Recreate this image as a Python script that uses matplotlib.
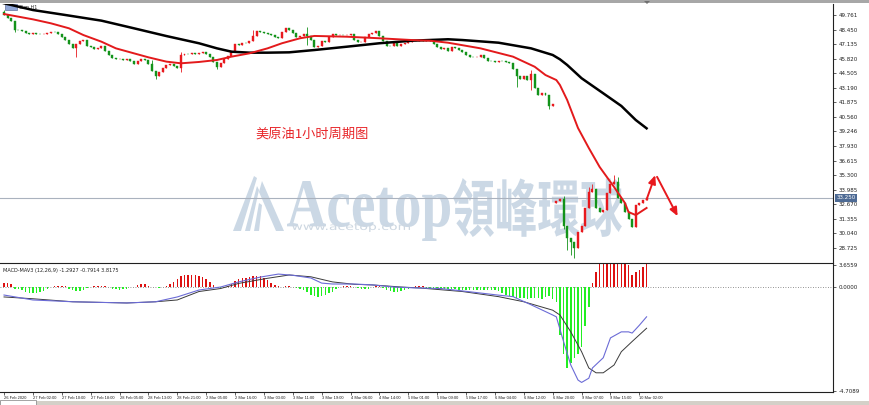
import numpy as np
import matplotlib
matplotlib.use("Agg")
import matplotlib.pyplot as plt
from matplotlib.textpath import TextPath
from matplotlib.patches import PathPatch, Polygon, Rectangle
from matplotlib.font_manager import FontProperties
from matplotlib.transforms import Affine2D, blended_transform_factory

# Hourly closes (bar 0 = 26 Feb 2020), weekend gap after bar 152
closes = [
    49.76, 49.49, 49.22, 48.41, 48.38, 48.32, 48.14, 48.05, 48.14, 48.05,
    48.02, 48.07, 48.14, 48.23, 48.20, 48.05, 47.78, 47.50, 47.14, 46.78,
    47.14, 47.41, 47.50, 46.96, 46.87, 46.69, 46.78, 46.96, 46.51, 46.15,
    45.88, 45.79, 45.82, 45.70, 45.79, 45.61, 45.34, 45.61, 45.79, 45.70,
    45.34, 44.71, 44.25, 44.62, 44.98, 45.25, 45.34, 45.16, 44.98, 46.15,
    46.24, 46.21, 46.33, 46.24, 46.33, 46.42, 46.24, 45.97, 45.52, 45.07,
    45.43, 45.79, 46.06, 46.51, 47.14, 47.05, 47.23, 47.20, 47.41, 47.87,
    48.32, 48.23, 48.14, 48.05, 47.96, 47.78, 47.68, 48.23, 48.59, 48.41,
    48.14, 47.78, 47.87, 48.05, 47.87, 47.50, 46.87, 46.96, 47.41, 47.32,
    47.78, 48.05, 47.96, 47.99, 47.93, 47.96, 48.05, 47.50, 47.32, 47.35,
    47.78, 48.05, 48.14, 48.32, 47.87, 47.41, 46.96, 46.93, 47.23, 46.96,
    47.14, 47.23, 47.32, 47.41, 47.38, 47.50, 47.41, 47.47, 47.41, 47.14,
    46.87, 46.69, 46.78, 46.51, 46.87, 46.78, 46.60, 46.42, 46.15, 45.97,
    45.94, 45.97, 46.15, 45.88, 45.61, 45.58, 45.52, 45.61, 45.58, 45.52,
    45.43, 44.89, 44.25, 43.98, 44.25, 43.89, 44.43, 43.17, 42.54, 42.72,
    42.51, 41.54, 41.73, 32.97, 33.15, 30.71, 29.63, 29.27, 28.73, 30.17,
    30.71, 32.34, 33.78, 34.05, 32.34, 31.97, 32.15, 33.69, 34.50, 34.68,
    33.24, 32.79, 31.97, 31.34, 30.62, 32.61, 32.79, 33.06, 33.25,
]
# opens that do not follow the previous close (first bar, Monday gap)
open_override = {0: 50.03, 153: 32.79}
# visible wicks
wick_high = {0: 50.21, 41: 45.70, 49: 46.42, 69: 48.41, 84: 48.68, 146: 44.80,
             155: 33.42, 162: 34.23, 163: 34.50, 169: 35.31, 170: 35.13}
wick_low = {3: 48.20, 20: 45.97, 42: 43.98, 49: 44.62, 59: 44.89, 84: 47.05,
            142: 43.26, 146: 42.99, 151: 41.27, 155: 30.44, 156: 28.55,
            157: 28.09, 158: 27.82}

# moving averages (bar index, price)
red_ma_idx = [0, 3, 8, 13, 18, 22, 27, 31, 36, 40, 45, 49, 54, 59, 63, 68, 73, 77, 82, 86,
              95, 104, 113, 118, 123, 132, 141, 147, 150, 153, 154, 156, 159, 162, 165,
              169, 172, 173, 175, 178]
red_ma = [49.85, 49.67, 49.37, 49.01, 48.56, 47.95, 47.35, 46.75, 46.30, 45.94, 45.55,
          45.40, 45.52, 45.70, 46.00, 46.30, 46.75, 47.21, 47.66, 47.87, 47.80, 47.66,
          47.50, 47.44, 47.26, 46.75, 46.00, 45.09, 44.34, 43.89, 43.44, 42.09, 39.56,
          37.75, 36.04, 34.23, 32.79, 31.97, 31.70, 32.34]
black_ma_idx = [0, 8, 17, 27, 36, 45, 54, 59, 63, 68, 73, 79, 86, 95, 104, 113, 123, 127,
                137, 146, 152, 154, 156, 160, 166, 171, 175, 178]
black_ma = [50.82, 50.21, 49.76, 49.25, 48.56, 47.86, 47.21, 46.75, 46.45, 46.36, 46.36,
            46.39, 46.60, 46.90, 47.21, 47.44, 47.57, 47.50, 47.26, 46.75, 46.15, 45.76,
            45.25, 44.05, 42.69, 41.55, 40.28, 39.53]

# MACD histogram, one value per bar
macd_hist = [
    0.7, 0.7, 0.5, -0.2, -0.3, -0.5, -0.7, -0.9, -1.0, -1.0,
    -0.8, -0.6, -0.3, 0.1, 0.2, 0.3, 0.3, 0.2, -0.2, -0.5,
    -0.6, -0.6, -0.4, -0.1, 0.1, 0.2, 0.3, 0.3, 0.2, 0.1,
    -0.2, -0.3, -0.4, -0.3, -0.2, 0.05, 0.1, 0.4, 0.6, 0.6,
    0.3, 0.1, 0.05, -0.05, 0.05, 0.3, 0.6, 0.95, 1.4, 1.8,
    2.0, 2.1, 2.1, 2.0, 1.9, 1.7, 1.3, 0.9, 0.4, 0.1,
    -0.05, 0.05, 0.3, 0.6, 1.0, 1.3, 1.5, 1.6, 1.7, 1.8,
    1.85, 1.8, 1.6, 1.2, 0.8, 0.45, 0.2, 0.1, 0.2, 0.25,
    0.1, -0.1, -0.3, -0.5, -0.8, -1.2, -1.5, -1.55, -1.5, -1.3,
    -1.0, -0.7, -0.3, 0.1, 0.2, 0.3, 0.3, 0.1, -0.1, -0.3,
    -0.3, -0.2, 0.1, 0.3, 0.3, -0.1, -0.4, -0.6, -0.7, -0.7,
    -0.6, -0.4, -0.2, 0.05, 0.2, 0.3, 0.2, -0.1, -0.3, -0.3,
    -0.3, -0.3, -0.3, -0.35, -0.3, -0.35, -0.4, -0.4, -0.45, -0.5,
    -0.5, -0.5, -0.5, -0.5, -0.5, -0.45, -0.5, -0.6, -0.9, -1.2,
    -1.5, -1.6, -1.7, -1.8, -1.8, -1.9, -1.8, -1.7, -1.8, -1.9,
    -1.6, -1.5, -1.9, -2.5, -8.0, -11.0, -13.4, -12.6, -11.8, -11.0,
    -9.9, -6.5, -3.2, 0.7, 2.6, 3.8, 3.8, 3.8, 3.8, 3.8,
    3.8, 3.8, 3.8, 3.7, 2.1, 2.6, 2.9, 3.3, 3.8,
]
macd_idx = [0, 8, 19, 34, 42, 48, 54, 60, 65, 71, 76, 80, 85, 88, 91, 97, 102, 108, 114,
            121, 127, 137, 141, 146, 152, 153, 155, 157, 159, 160, 162, 163, 166, 168,
            171, 173, 174, 176, 178]
macd_line = [-1.28, -2.1, -2.4, -2.6, -2.4, -1.6, -0.45, 0.05, 0.9, 1.7, 2.2, 2.0, 1.55,
             0.7, 0.55, 0.55, 0.4, 0.05, -0.1, -0.2, -0.6, -1.3, -1.55, -2.9, -4.6, -4.9,
             -9.0, -12.9, -15.4, -15.8, -15.1, -13.4, -11.7, -8.4, -7.4, -7.4, -7.6,
             -6.3, -4.9]
signal_idx = [0, 8, 19, 34, 42, 48, 54, 60, 65, 73, 79, 85, 91, 97, 102, 110, 115, 127,
              137, 144, 152, 154, 157, 160, 162, 164, 166, 169, 171, 174, 178]
signal_line = [-1.6, -1.9, -2.4, -2.6, -2.4, -2.1, -0.7, -0.2, 0.65, 1.5, 2.05, 1.75, 0.9,
               0.5, 0.4, 0.05, -0.1, -0.7, -1.55, -2.4, -3.8, -4.6, -7.4, -10.7, -13.4,
               -14.2, -14.2, -12.9, -10.7, -9.0, -6.8]

price_ticks = [49.761, 48.450, 47.135, 45.820, 44.505, 43.190, 41.875, 40.560, 39.246,
               37.930, 36.615, 35.300, 33.985, 32.670, 31.355, 30.040, 28.725]
macd_tick_pos = [3.6559, 0.0, -17.2]
macd_tick_labels = ["3.6559", "0.0000", "-4.7089"]

time_idx = list(range(0, 177, 8))
time_labels = ["26 Feb 2020", "27 Feb 02:00", "27 Feb 10:00", "27 Feb 18:00", "28 Feb 05:00",
               "28 Feb 13:00", "28 Feb 21:00", "2 Mar 05:00", "2 Mar 16:00", "3 Mar 03:00",
               "3 Mar 11:00", "3 Mar 19:00", "4 Mar 06:00", "4 Mar 14:00", "5 Mar 01:00",
               "5 Mar 09:00", "5 Mar 17:00", "6 Mar 04:00", "6 Mar 12:00", "6 Mar 20:00",
               "9 Mar 07:00", "9 Mar 15:00", "10 Mar 02:00"]

# forecast arrows drawn on the chart (bar, price)
arrow_up = [(178.0, 33.10), (180.4, 35.30)]
arrow_down = [(180.9, 35.15), (186.6, 31.60)]

W, H = 870, 405
fig = plt.figure(figsize=(W / 100, H / 100), dpi=100)
fig.patch.set_facecolor("white")

# background layer in pixel coordinates (watermark, frame)
bg = fig.add_axes([0, 0, 1, 1], zorder=0)
bg.set_xlim(0, W)
bg.set_ylim(H, 0)
bg.axis("off")


def fit_text(ax, s, x0, x1, ytop, ybot, prop, color):
    tp = TextPath((0, 0), s, size=100, prop=prop)
    ext = tp.get_extents()
    sx = (x1 - x0) / ext.width
    sy = (ybot - ytop) / ext.height
    tr = Affine2D().scale(sx, -sy).translate(x0 - ext.x0 * sx, ybot + ext.y0 * sy)
    ax.add_patch(PathPatch(tr.transform_path(tp), facecolor=color, edgecolor="none"))


wm = "#cbd8e5"
fit_text(bg, "Acetop", 287, 450, 181, 241,
         FontProperties(family="Liberation Serif", weight="bold"), wm)
fit_text(bg, "領峰環球", 453, 622, 178, 237,
         FontProperties(family="Noto Sans CJK TC", weight="bold"), wm)
fit_text(bg, "www.acetop.com", 292, 410, 223, 232,
         FontProperties(family="DejaVu Sans"), "#cdd7e1")
# logo: striped "A"
for pts in [[(233, 231), (241, 231), (257, 178), (254, 176)],
            [(245, 231), (250, 231), (259, 190), (257, 186)],
            [(262, 181), (284, 231), (276, 231), (259, 192)],
            [(254, 231), (259, 231), (262, 205), (259, 203)]]:
    bg.add_patch(Polygon(pts, closed=True, facecolor=wm, edgecolor="none"))

bg.add_patch(Rectangle((0, 0), W, 3, facecolor="#a7a7a7", edgecolor="none"))
bg.add_patch(Rectangle((0, 401), W, 4, facecolor="#d4d0c8", edgecolor="none"))
bg.add_patch(Rectangle((0, 400), 36, 5, facecolor="white", edgecolor="#808080", lw=0.5))
bg.add_patch(Polygon([(644, 1), (650, 1), (647, 4)], closed=True, facecolor="#707070"))

# title, label
bg.text(255, 134, "美原油1小时周期图", fontsize=9.5, color="#e8262a",
        family=["Noto Sans CJK SC", "DejaVu Sans"], va="center", ha="left")
bg.add_patch(Rectangle((5, 4), 12, 6, facecolor="#8fa6d8", edgecolor="#4a5a8a", lw=0.4))
bg.text(19, 7, "CLm,H1", fontsize=3.5, color="#303030", va="center")

# main price panel
xmin, xmax = -1.108, 229.64
ax = fig.add_axes([0, 1 - 262 / H, 833 / W, 258 / H], zorder=1)
ax.set_facecolor("none")
ax.set_xlim(xmin, xmax)
ax.set_ylim(27.461, 50.754)

n = len(closes)
idx = np.arange(n)
opens = [open_override.get(i, closes[i - 1] if i > 0 else closes[0]) for i in range(n)]
highs = [wick_high.get(i, max(opens[i], closes[i])) for i in range(n)]
lows = [wick_low.get(i, min(opens[i], closes[i])) for i in range(n)]
colors = ["#e8191e" if c >= o else "#13931a" for o, c in zip(opens, closes)]

ax.axhline(closes[-1], color="#aab2be", lw=0.8, zorder=1)
ax.vlines(idx, lows, highs, colors=colors, lw=0.6, zorder=2)
ax.bar(idx, np.array(closes) - np.array(opens), bottom=opens, width=0.55,
       color=colors, edgecolor=colors, lw=0.3, zorder=3)
ax.plot(black_ma_idx, black_ma, color="black", lw=1.8, zorder=4)
ax.plot(red_ma_idx, red_ma, color="#e31a1c", lw=1.4, zorder=4)

for seg in (arrow_up, arrow_down):
    ax.annotate("", xy=seg[1], xytext=seg[0],
                arrowprops=dict(arrowstyle="-|>,head_length=0.5,head_width=0.22",
                                color="#e8191e", lw=1.4, shrinkA=0, shrinkB=0), zorder=5)

for s in ["top", "left", "bottom"]:
    ax.spines[s].set_visible(False)
ax.spines["right"].set_color("#202020")
ax.spines["right"].set_linewidth(0.8)
ax.set_xticks([])
ax.yaxis.tick_right()
ax.set_yticks(price_ticks)
ax.set_yticklabels([f"{v:.3f}" for v in price_ticks])
ax.tick_params(axis="y", labelsize=4, colors="#202020", length=2.5, width=0.5, pad=1.5)

trans = blended_transform_factory(ax.transAxes, ax.transData)
ax.text(1.004, closes[-1], f"{closes[-1]:.3f}", transform=trans, fontsize=4, color="white",
        va="center", ha="left",
        bbox=dict(boxstyle="square,pad=0.25", facecolor="#4d6a94", edgecolor="none"))

# MACD panel
axm = fig.add_axes([0, 1 - 392 / H, 833 / W, 129 / H], zorder=1)
axm.set_facecolor("none")
axm.set_xlim(xmin, xmax)
axm.set_ylim(-17.39, 4.04)
hist_colors = ["#dd1111" if v > 0 else "#22ee22" for v in macd_hist]
axm.bar(idx, macd_hist, width=0.42, color=hist_colors, lw=0, zorder=2)
axm.axhline(0, color="#707070", lw=0.6, ls=(0, (1, 2)), zorder=1)
axm.plot(signal_idx, signal_line, color="#3a3a3a", lw=0.7, zorder=3)
axm.plot(macd_idx, macd_line, color="#6b6bd6", lw=0.8, zorder=3)
axm.text(0.004, 0.96, "MACD-MAV3 (12,26,9) -1.2927 -0.7914 3.8175", transform=axm.transAxes,
         fontsize=3.6, color="#202020", va="top", ha="left")

axm.spines["left"].set_visible(False)
for s in ["top", "bottom", "right"]:
    axm.spines[s].set_color("#202020")
    axm.spines[s].set_linewidth(0.8)
axm.yaxis.tick_right()
axm.set_yticks(macd_tick_pos)
axm.set_yticklabels(macd_tick_labels)
axm.tick_params(axis="y", labelsize=4, colors="#202020", length=2.5, width=0.5, pad=1.5)
axm.set_xticks(time_idx)
axm.set_xticklabels(time_labels, ha="left", family="Liberation Sans")
axm.tick_params(axis="x", labelsize=2.9, colors="#202020", length=2, width=0.5, pad=1)

fig.savefig("out.png", dpi=100, facecolor="white")
